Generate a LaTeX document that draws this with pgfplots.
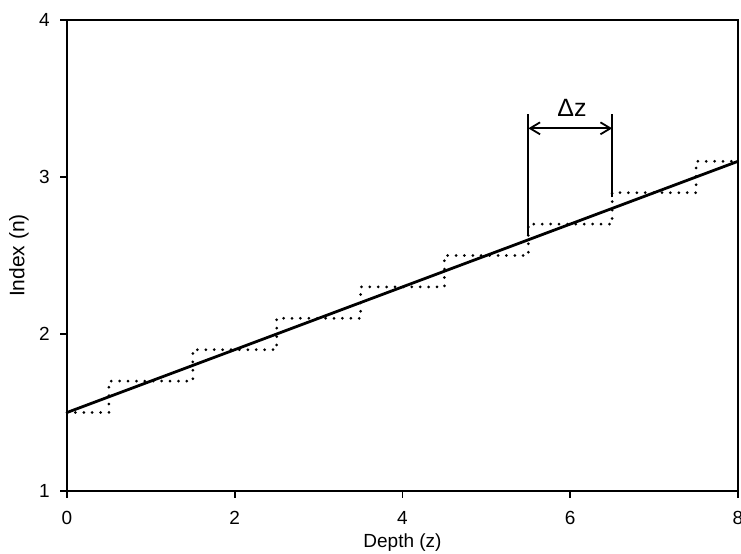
\documentclass[border=0pt]{standalone}
\usepackage{fontspec}
\setmainfont{Liberation Sans}
\usepackage{pgfplots}
\pgfplotsset{compat=1.18}
\usetikzlibrary{arrows.meta}
\begin{document}
\fontsize{9pt}{11pt}\selectfont
\begin{tikzpicture}
\begin{axis}[
  scale only axis,
  width=335.5pt, height=235.5pt,
  xmin=0, xmax=8, ymin=1, ymax=4,
  xtick={0,2,4,6,8}, ytick={1,2,3,4},
  tick align=outside,
  major tick length=3.5pt,
  xtick pos=bottom, ytick pos=left,
  axis line style={line width=0.9pt},
  tick style={line width=0.8pt, black},
  /pgf/number format/assume math mode=true,
  ticklabel style={font=\fontsize{9.5pt}{11pt}\selectfont},
  xticklabel style={yshift=-3.5pt},
  yticklabel style={xshift=-2pt},
  xlabel={Depth (z)}, ylabel={Index (n)},
  xlabel style={at={(axis description cs:0.5,-0.1104)}, anchor=center, font=\fontsize{9.5pt}{11pt}\selectfont},
  ylabel style={at={(axis description cs:-0.0715,0.5)}, anchor=center, font=\fontsize{10.5pt}{12pt}\selectfont},
  clip=false,
]
\addplot[black, line width=1.5pt, line cap=round, dash pattern=on 0pt off 4.2pt] coordinates {
 (0,1.5)(0.5,1.5)(0.5,1.7)(1.5,1.7)(1.5,1.9)(2.5,1.9)(2.5,2.1)(3.5,2.1)(3.5,2.3)
 (4.5,2.3)(4.5,2.5)(5.5,2.5)(5.5,2.7)(6.5,2.7)(6.5,2.9)(7.5,2.9)(7.5,3.1)(8,3.1)};
\addplot[black, line width=1.4pt] coordinates {(0,1.5)(8,3.1)};
\addplot[black, line width=0.9pt] coordinates {(5.5,2.63)(5.5,3.40)};
\addplot[black, line width=0.9pt] coordinates {(6.5,2.87)(6.5,3.40)};
\draw[{Straight Barb[length=5pt,width=6pt]}-{Straight Barb[length=5pt,width=6pt]}, line width=0.9pt] (axis cs:5.5,3.31) -- (axis cs:6.5,3.31);
\node[font=\fontsize{12.5pt}{14pt}\selectfont] at (axis cs:6.02,3.44) {Δz};
\end{axis}
\pgfresetboundingbox
\path[use as bounding box] ([xshift=-33.5pt,yshift=-31.5pt]current axis.south west) rectangle ([xshift=1.5pt,yshift=10pt]current axis.north east);
\end{tikzpicture}
\end{document}
